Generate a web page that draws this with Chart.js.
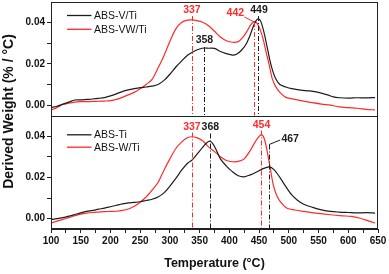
<!DOCTYPE html>
<html>
<head>
<meta charset="utf-8">
<script src="https://cdn.jsdelivr.net/npm/chart.js@4/dist/chart.umd.min.js"></script>
<style>
  body { margin: 0; background: #fff; }
  canvas { display: block; }
</style>
</head>
<body>
<canvas id="c" width="389" height="274"></canvas>
<script>
// DATA
// top panel
const vtiTemp = [100, 110, 120, 130, 140, 150, 160, 170, 180, 190, 200, 210, 220, 230, 240, 250, 260, 270, 280, 290, 300, 310, 320, 330, 340, 350, 358, 365, 375, 385, 395, 405, 412, 420, 428, 435, 440, 445, 449, 453, 458, 463, 468, 473, 478, 485, 495, 505, 520, 535, 550, 565, 575, 585, 600, 615, 630, 645];
const vtiValues = [-0.0011, -0.0005, 0.0005, 0.0015, 0.0025, 0.0026, 0.0028, 0.0030, 0.0033, 0.0037, 0.0045, 0.0055, 0.0066, 0.0074, 0.0080, 0.0085, 0.0088, 0.0092, 0.0100, 0.0120, 0.0150, 0.0185, 0.0215, 0.0243, 0.0260, 0.0272, 0.0277, 0.0276, 0.0275, 0.0260, 0.0250, 0.0243, 0.0247, 0.0265, 0.0295, 0.0340, 0.0380, 0.0410, 0.0418, 0.0405, 0.0355, 0.0290, 0.0220, 0.0165, 0.0128, 0.0100, 0.0088, 0.0080, 0.0073, 0.0069, 0.0062, 0.0050, 0.0040, 0.0036, 0.0034, 0.0036, 0.0035, 0.0037];

const vwtiTemp = [100, 110, 120, 130, 140, 150, 160, 170, 180, 190, 200, 210, 220, 230, 240, 250, 260, 270, 280, 290, 300, 310, 320, 330, 337, 345, 355, 365, 375, 385, 395, 405, 415, 423, 430, 436, 442, 447, 452, 457, 462, 467, 472, 478, 485, 495, 510, 525, 540, 555, 570, 585, 600, 615, 630, 645];
const vwtiValues = [-0.0023, -0.0012, 0.0003, 0.0010, 0.0015, 0.0017, 0.0017, 0.0018, 0.0019, 0.0020, 0.0022, 0.0028, 0.0038, 0.0050, 0.0062, 0.0080, 0.0100, 0.0125, 0.0180, 0.0240, 0.0310, 0.0370, 0.0402, 0.0412, 0.0413, 0.0410, 0.0402, 0.0385, 0.0358, 0.0330, 0.0312, 0.0305, 0.0308, 0.0330, 0.0360, 0.0390, 0.0405, 0.0395, 0.0365, 0.0318, 0.0255, 0.0195, 0.0130, 0.0090, 0.0062, 0.0038, 0.0028, 0.0020, 0.0012, 0.0005, 0.0000, -0.0008, -0.0012, -0.0015, -0.0020, -0.0023];

// bottom panel
const tiTemp = [100, 110, 120, 130, 140, 150, 160, 170, 180, 190, 200, 210, 220, 230, 240, 250, 260, 270, 280, 290, 300, 310, 320, 330, 337, 345, 355, 362, 368, 375, 385, 395, 405, 415, 425, 435, 445, 455, 467, 475, 485, 495, 505, 515, 525, 540, 555, 570, 585, 600, 615, 630, 645];
const tiValues = [-0.0005, 0.0000, 0.0005, 0.0012, 0.0020, 0.0028, 0.0035, 0.0040, 0.0046, 0.0051, 0.0058, 0.0065, 0.0072, 0.0077, 0.0079, 0.0082, 0.0088, 0.0094, 0.0105, 0.0125, 0.0158, 0.0195, 0.0236, 0.0270, 0.0284, 0.0310, 0.0345, 0.0368, 0.0375, 0.0350, 0.0290, 0.0255, 0.0228, 0.0208, 0.0203, 0.0212, 0.0225, 0.0240, 0.0251, 0.0238, 0.0200, 0.0155, 0.0115, 0.0088, 0.0070, 0.0055, 0.0043, 0.0035, 0.0032, 0.0030, 0.0028, 0.0029, 0.0027];

const wtiTemp = [100, 110, 120, 130, 140, 150, 160, 170, 180, 190, 200, 210, 220, 230, 240, 250, 260, 270, 280, 290, 300, 310, 320, 330, 337, 345, 355, 365, 375, 385, 395, 405, 415, 425, 435, 443, 449, 454, 459, 464, 469, 474, 480, 487, 497, 510, 525, 545, 570, 590, 605, 620, 635, 645];
const wtiValues = [-0.0021, -0.0012, -0.0003, 0.0005, 0.0014, 0.0022, 0.0027, 0.0030, 0.0032, 0.0034, 0.0035, 0.0036, 0.0040, 0.0047, 0.0060, 0.0080, 0.0105, 0.0138, 0.0175, 0.0235, 0.0290, 0.0340, 0.0372, 0.0393, 0.0397, 0.0393, 0.0378, 0.0348, 0.0325, 0.0300, 0.0282, 0.0276, 0.0278, 0.0290, 0.0330, 0.0370, 0.0395, 0.0407, 0.0385, 0.0320, 0.0240, 0.0163, 0.0110, 0.0078, 0.0051, 0.0042, 0.0035, 0.0027, 0.0019, 0.0014, 0.0011, 0.0002, -0.0012, -0.0021];

// peak markers
const topPeaks = [337, 358, 442, 449];
const bottomPeaks = [337, 368, 454, 467];

// ticks
const xTicks = [100, 125, 150, 175, 200, 225, 250, 275, 300, 325, 350, 375, 400, 425, 450, 475, 500, 525, 550, 575, 600, 625, 650];
const yTicks = [0, 0.01, 0.02, 0.03, 0.04];

const RED = "#ff2a2a";
const BLACK = "#1c1c1c";
const FONT = 'Arial, "Liberation Sans", sans-serif';

function toPoints(temps, values) {
  return temps.map((t, i) => ({ x: t, y: values[i] }));
}

// frame + divider between the two panels
const framePlugin = {
  id: "frame",
  afterDraw(chart) {
    const { ctx, chartArea: a, scales } = chart;
    ctx.save();
    ctx.strokeStyle = "#222";
    ctx.lineWidth = 1;
    ctx.strokeRect(a.left + 0.5, a.top + 0.5, a.right - a.left - 1, a.bottom - a.top - 1);
    const mid = Math.round(scales.yTop.bottom) + 0.5;
    ctx.beginPath();
    ctx.moveTo(a.left, mid);
    ctx.lineTo(a.right, mid);
    ctx.stroke();

    // y title, spanning both panels
    ctx.fillStyle = "#111";
    ctx.font = "bold 14px " + FONT;
    ctx.textAlign = "center";
    ctx.textBaseline = "middle";
    ctx.translate(9, (a.top + a.bottom) / 2 - 4);
    ctx.rotate(-Math.PI / 2);
    ctx.fillText("Derived Weight (% / °C)", 0, 0);
    ctx.restore();
  },
};

// dash-dot peak lines, peak labels, in-panel legends
const notesPlugin = {
  id: "notes",
  afterDatasetsDraw(chart) {
    const { ctx, scales } = chart;
    const x = scales.x;
    const top1 = scales.yTop.top;
    const bot1 = scales.yTop.bottom;
    const top2 = scales.yBottom.top;
    const bot2 = scales.yBottom.bottom;

    function vline(t, y0, y1, color) {
      const px = Math.round(x.getPixelForValue(t)) + 0.5;
      ctx.save();
      ctx.strokeStyle = color;
      ctx.lineWidth = 1;
      ctx.setLineDash([5, 2, 1, 2]);
      ctx.beginPath();
      ctx.moveTo(px, y0);
      ctx.lineTo(px, y1);
      ctx.stroke();
      ctx.restore();
    }
    function label(text, px, py, color) {
      ctx.save();
      ctx.fillStyle = color;
      ctx.font = "bold 10.5px " + FONT;
      ctx.textAlign = "center";
      ctx.textBaseline = "middle";
      ctx.fillText(text, px, py);
      ctx.restore();
    }
    function leader(x0, y0, x1, y1, color) {
      ctx.save();
      ctx.strokeStyle = color;
      ctx.lineWidth = 1;
      ctx.beginPath();
      ctx.moveTo(x0, y0);
      ctx.lineTo(x1, y1);
      ctx.stroke();
      ctx.restore();
    }

    // top panel
    let p = topPeaks.map((t) => x.getPixelForValue(t));
    vline(topPeaks[0], top1 + 14, bot1, RED);
    label(String(topPeaks[0]), p[0], top1 + 8.5, RED);
    vline(topPeaks[1], top1 + 45, bot1, BLACK);
    label(String(topPeaks[1]), p[1], top1 + 38, BLACK);
    vline(topPeaks[2], top1 + 20, bot1, RED);
    label(String(topPeaks[2]), p[2] - 19, top1 + 11.5, RED);
    leader(p[2] - 10, top1 + 15, p[2], top1 + 20, RED);
    vline(topPeaks[3], top1 + 14, bot1, BLACK);
    label(String(topPeaks[3]), p[3] + 0.5, top1 + 8.3, BLACK);

    // bottom panel
    p = bottomPeaks.map((t) => x.getPixelForValue(t));
    vline(bottomPeaks[0], top2 + 17, bot2, RED);
    label(String(bottomPeaks[0]), p[0], top2 + 11.5, RED);
    vline(bottomPeaks[1], top2 + 18, bot2, BLACK);
    label(String(bottomPeaks[1]), p[1], top2 + 11.5, BLACK);
    vline(bottomPeaks[2], top2 + 15, bot2, RED);
    label(String(bottomPeaks[2]), p[2], top2 + 9.3, RED);
    vline(bottomPeaks[3], top2 + 29, bot2, BLACK);
    label(String(bottomPeaks[3]), p[3] + 21, top2 + 24, BLACK);
    leader(p[3] + 11, top2 + 24.5, p[3], top2 + 29, BLACK);

    // legends
    function legendRow(y, color, text) {
      ctx.save();
      ctx.strokeStyle = color;
      ctx.lineWidth = 1.3;
      ctx.beginPath();
      ctx.moveTo(67, y);
      ctx.lineTo(91.5, y);
      ctx.stroke();
      ctx.fillStyle = "#111";
      ctx.font = "10.5px " + FONT;
      ctx.textAlign = "left";
      ctx.textBaseline = "middle";
      ctx.fillText(text, 94, y + 0.5);
      ctx.restore();
    }
    legendRow(top1 + 13.5, BLACK, "ABS-V/Ti");
    legendRow(top1 + 27.3, RED, "ABS-VW/Ti");
    legendRow(top2 + 19.3, BLACK, "ABS-Ti");
    legendRow(top2 + 31.7, RED, "ABS-W/Ti");
  },
};

function yScale(weight) {
  return {
    type: "linear",
    position: "left",
    stack: "panels",
    stackWeight: 1,
    weight: weight,
    min: -0.005,
    max: 0.05,
    afterBuildTicks: (scale) => {
      scale.ticks = yTicks.map((v) => ({ value: v }));
    },
    afterFit: (scale) => {
      scale.width = 51;
      scale.paddingTop = 0;
      scale.paddingBottom = 0;
    },
    ticks: {
      color: "#111",
      padding: 2,
      font: { family: FONT, size: 10, weight: "bold" },
      callback: (value, index) => (index % 2 === 0 ? value.toFixed(2) : ""),
    },
    grid: { drawOnChartArea: false, tickLength: 4, color: "#222" },
    border: { display: true, color: "#222" },
  };
}

const chart = new Chart(document.getElementById("c"), {
  type: "line",
  data: {
    datasets: [
      { label: "ABS-V/Ti", data: toPoints(vtiTemp, vtiValues), yAxisID: "yTop", borderColor: BLACK },
      { label: "ABS-VW/Ti", data: toPoints(vwtiTemp, vwtiValues), yAxisID: "yTop", borderColor: RED },
      { label: "ABS-Ti", data: toPoints(tiTemp, tiValues), yAxisID: "yBottom", borderColor: BLACK },
      { label: "ABS-W/Ti", data: toPoints(wtiTemp, wtiValues), yAxisID: "yBottom", borderColor: RED },
    ],
  },
  options: {
    responsive: false,
    animation: false,
    devicePixelRatio: 1,
    layout: { autoPadding: false, padding: { left: 0, right: 11, top: 2, bottom: 0 } },
    elements: {
      point: { radius: 0 },
      line: { borderWidth: 1.2, tension: 0.3 },
    },
    plugins: { legend: { display: false }, tooltip: { enabled: false } },
    scales: {
      x: {
        type: "linear",
        position: "bottom",
        min: 100,
        max: 650,
        afterBuildTicks: (scale) => {
          scale.ticks = xTicks.map((v) => ({ value: v }));
        },
        afterFit: (scale) => {
          scale.height = 45;
          scale.paddingLeft = 0;
          scale.paddingRight = 0;
        },
        ticks: {
          autoSkip: false,
          maxRotation: 0,
          color: "#111",
          padding: 2,
          font: { family: FONT, size: 10, weight: "bold" },
          callback: (value) => (value % 50 === 0 ? String(value) : ""),
        },
        grid: { drawOnChartArea: false, tickLength: 4, color: "#222" },
        border: { display: true, color: "#222" },
        title: {
          display: true,
          text: "Temperature (°C)",
          color: "#111",
          font: { family: FONT, size: 12.5, weight: "bold" },
          padding: { top: 0, bottom: 3 },
        },
      },
      // the stack places the higher weight first (on top)
      yTop: yScale(2),
      yBottom: yScale(1),
    },
  },
  plugins: [notesPlugin, framePlugin],
});
</script>
</body>
</html>
